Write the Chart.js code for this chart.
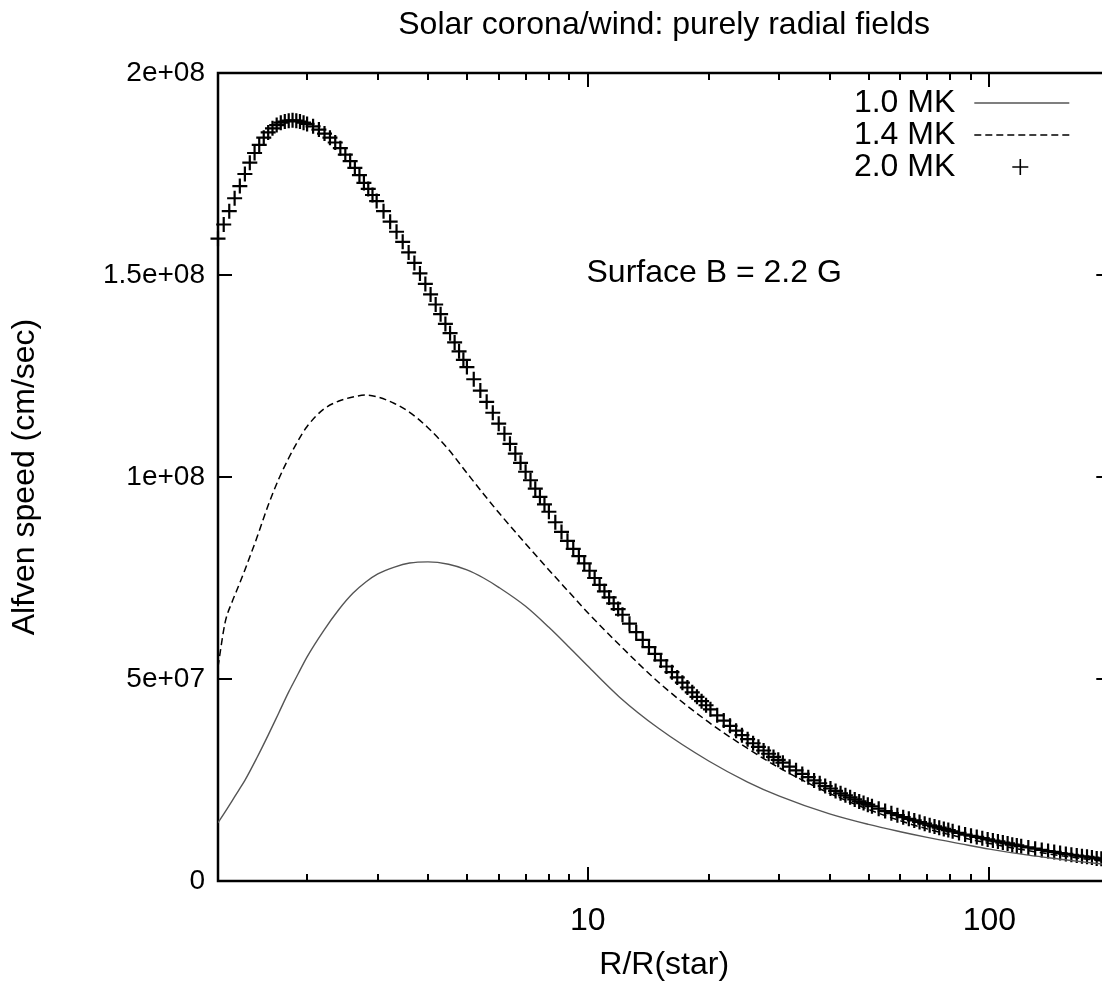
<!DOCTYPE html>
<html>
<head>
<meta charset="utf-8">
<title>Solar corona/wind: purely radial fields</title>
<script src="https://cdn.jsdelivr.net/npm/chart.js@4.4.1/dist/chart.umd.min.js"></script>
<style>
  html, body { margin: 0; padding: 0; background: #fff; overflow: hidden; }
  #wrap { width: 1120px; height: 981px; }
</style>
</head>
<body>
<div id="wrap"><canvas id="chart"></canvas></div>
<script>
// radius grid for the two line curves (R/R(star))
const rLine = [1.2, 1.25, 1.3, 1.35, 1.4, 1.5, 1.6, 1.7, 1.8, 1.9,
  2.0, 2.2, 2.4, 2.6, 2.8, 3.0, 3.3, 3.6, 4.0, 4.5,
  5, 5.5, 6, 7, 8, 9, 10, 12, 15, 20,
  25, 30, 40, 50, 60, 70, 85, 100, 125, 150,
  175, 200];

// Alfven speed in units of 1e7 cm/sec
const v10MK = [1.44, 1.71, 1.98, 2.24, 2.49, 3.05, 3.61, 4.16, 4.68, 5.13,
  5.55, 6.2, 6.72, 7.12, 7.4, 7.6, 7.77, 7.87, 7.9, 7.84,
  7.7, 7.5, 7.27, 6.8, 6.28, 5.78, 5.32, 4.55, 3.78, 2.97,
  2.45, 2.1, 1.66, 1.4, 1.22, 1.08, 0.92, 0.79, 0.64, 0.54,
  0.46, 0.4];

const v14MK = [5.3, 6.4, 6.9, 7.3, 7.7, 8.5, 9.3, 9.95, 10.47, 10.9,
  11.25, 11.68, 11.88, 11.98, 12.03, 11.98, 11.82, 11.6, 11.22, 10.68,
  10.1, 9.58, 9.12, 8.35, 7.7, 7.14, 6.64, 5.84, 4.92, 3.93,
  3.28, 2.8, 2.17, 1.77, 1.49, 1.29, 1.08, 0.93, 0.75, 0.63,
  0.54, 0.47];

// the 2.0 MK run is plotted point by point
const rPlus = [1.20, 1.24, 1.28, 1.32, 1.36, 1.40, 1.44, 1.48, 1.52, 1.56,
  1.60, 1.64, 1.68, 1.72, 1.76, 1.80, 1.84, 1.88, 1.92, 1.96,
  2.00, 2.07, 2.14, 2.21, 2.28, 2.35, 2.42, 2.49, 2.56, 2.63,
  2.70, 2.77, 2.84, 2.91, 2.98, 3.10, 3.22, 3.34, 3.46, 3.58,
  3.70, 3.82, 3.94, 4.06, 4.18, 4.30, 4.42, 4.54, 4.66, 4.78,
  4.90, 5.0, 5.2, 5.4, 5.6, 5.8, 6.0, 6.2, 6.4, 6.6,
  6.8, 7.0, 7.2, 7.4, 7.6, 7.8, 8.0, 8.3, 8.6, 8.9,
  9.2, 9.5, 9.8, 10.1, 10.4, 10.7, 11.0, 11.3, 11.6, 11.9,
  12.2, 12.7, 13.2, 13.7, 14.2, 14.7, 15.2, 15.7, 16.2, 16.7,
  17.2, 17.7, 18.2, 18.7, 19.2, 19.7, 20.2, 21.0, 21.8, 22.6,
  23.4, 24.2, 25.0, 25.8, 26.6, 27.4, 28.2, 29.0, 29.8, 30.6,
  31.8, 33.0, 34.2, 35.4, 36.6, 37.8, 39.0, 40.2, 41.4, 42.6,
  43.8, 45.0, 46.2, 47.4, 48.6, 49.8, 51, 53, 55, 57,
  59, 61, 63, 65, 67, 69, 71, 73, 75, 77,
  79, 81, 84, 87, 90, 93, 96, 99, 102, 105,
  108, 111, 114, 117, 120, 125, 130, 135, 140, 145,
  150, 155, 160, 165, 170, 175, 180, 185, 190, 195,
  200];

const v20MK = [15.9, 16.25, 16.58, 16.9, 17.2, 17.5, 17.78, 18.02, 18.22, 18.4,
  18.53, 18.63, 18.71, 18.77, 18.8, 18.82, 18.83, 18.82, 18.8, 18.77,
  18.74, 18.68, 18.6, 18.5, 18.4, 18.28, 18.14, 17.98, 17.82, 17.65,
  17.47, 17.28, 17.13, 16.98, 16.83, 16.58, 16.32, 16.07, 15.82, 15.56,
  15.3, 15.04, 14.78, 14.52, 14.27, 14.03, 13.79, 13.56, 13.33, 13.11,
  12.9, 12.72, 12.42, 12.14, 11.86, 11.59, 11.32, 11.07, 10.82, 10.58,
  10.35, 10.13, 9.92, 9.71, 9.51, 9.32, 9.14, 8.88, 8.64, 8.42,
  8.22, 8.04, 7.86, 7.68, 7.5, 7.33, 7.17, 7.02, 6.87, 6.73,
  6.59, 6.37, 6.16, 5.97, 5.79, 5.62, 5.46, 5.31, 5.17, 5.04,
  4.91, 4.79, 4.67, 4.56, 4.45, 4.35, 4.25, 4.1, 3.97, 3.84,
  3.72, 3.61, 3.51, 3.41, 3.32, 3.23, 3.15, 3.07, 3.0, 2.93,
  2.83, 2.74, 2.65, 2.57, 2.49, 2.42, 2.35, 2.29, 2.23, 2.17,
  2.12, 2.07, 2.02, 1.97, 1.93, 1.89, 1.85, 1.79, 1.73, 1.68,
  1.63, 1.58, 1.54, 1.5, 1.46, 1.42, 1.38, 1.35, 1.32, 1.29,
  1.26, 1.23, 1.19, 1.15, 1.12, 1.09, 1.06, 1.03, 1.0, 0.98,
  0.95, 0.93, 0.9, 0.88, 0.86, 0.83, 0.8, 0.77, 0.74, 0.72,
  0.69, 0.67, 0.65, 0.63, 0.61, 0.6, 0.58, 0.56, 0.55, 0.54,
  0.52];

const seriesLabels = ['1.0 MK', '1.4 MK', '2.0 MK'];
const xTickValues = [2, 3, 4, 5, 6, 7, 8, 9, 10, 20, 30, 40, 50, 60, 70, 80, 90, 100];
const xMajorTicks = [10, 100];
const yTickValues = [0, 5, 10, 15, 20];
const yTickLabels = ['0', '5e+07', '1e+08', '1.5e+08', '2e+08'];

const FONT = '"Liberation Sans", Arial, sans-serif';
Chart.defaults.font.family = FONT;
Chart.defaults.color = '#000';

const toPoints = (xs, ys) => xs.map((x, i) => ({x: x, y: ys[i]}));

// gnuplot-like frame, mirrored inward ticks, title, label and key
const framePlugin = {
  id: 'frame',
  beforeDatasetsDraw(chart) {
    const {ctx, chartArea: a, scales: {x, y}} = chart;
    ctx.save();
    ctx.strokeStyle = '#000';
    ctx.lineWidth = 2;
    ctx.beginPath();
    xTickValues.forEach(v => {
      const px = Math.round(x.getPixelForValue(v));
      const len = xMajorTicks.includes(v) ? 14 : 7;
      ctx.moveTo(px, a.bottom); ctx.lineTo(px, a.bottom - len);
      ctx.moveTo(px, a.top); ctx.lineTo(px, a.top + len);
    });
    yTickValues.forEach(v => {
      const py = Math.round(y.getPixelForValue(v));
      ctx.moveTo(a.left, py); ctx.lineTo(a.left + 14, py);
      ctx.moveTo(a.right, py); ctx.lineTo(a.right - 14, py);
    });
    ctx.stroke();
    ctx.lineWidth = 2.5;
    ctx.strokeRect(a.left, a.top, a.right - a.left, a.bottom - a.top);
    ctx.restore();
  },
  afterDraw(chart) {
    const {ctx, chartArea: a} = chart;
    const w = a.right - a.left, h = a.bottom - a.top;
    ctx.save();
    ctx.fillStyle = '#000';
    ctx.font = '32px ' + FONT;
    ctx.textBaseline = 'middle';

    ctx.textAlign = 'center';
    ctx.fillText('Solar corona/wind: purely radial fields', a.left + w / 2, 25);

    ctx.textAlign = 'left';
    ctx.fillText('Surface B = 2.2 G', a.left + 0.413 * w, a.top + 0.2475 * h);

    // key, top right inside the frame
    const sets = chart.data.datasets;
    ctx.textAlign = 'right';
    sets.forEach((ds, i) => {
      const yy = a.top + 30 + 32 * i;
      ctx.fillText(ds.label, a.right - 155, yy);
      ctx.save();
      ctx.strokeStyle = ds.borderColor;
      ctx.lineWidth = ds.borderWidth;
      if (ds.showLine === false) {
        Chart.helpers.drawPoint(ctx, {pointStyle: 'cross', radius: 8, borderWidth: 1.6}, a.right - 90, yy);
      } else {
        ctx.setLineDash(ds.borderDash || []);
        ctx.beginPath();
        ctx.moveTo(a.right - 136, yy);
        ctx.lineTo(a.right - 41, yy);
        ctx.stroke();
      }
      ctx.restore();
    });
    ctx.restore();
  }
};

new Chart(document.getElementById('chart'), {
  type: 'line',
  data: {
    datasets: [
      {
        label: seriesLabels[0],
        data: toPoints(rLine, v10MK),
        borderColor: '#555',
        borderWidth: 1.4,
        pointRadius: 0,
        cubicInterpolationMode: 'monotone'
      },
      {
        label: seriesLabels[1],
        data: toPoints(rLine, v14MK),
        borderColor: '#000',
        borderWidth: 1.5,
        borderDash: [7, 4],
        pointRadius: 0,
        cubicInterpolationMode: 'monotone'
      },
      {
        label: seriesLabels[2],
        data: toPoints(rPlus, v20MK),
        borderColor: '#000',
        borderWidth: 1.6,
        showLine: false,
        pointStyle: 'cross',
        pointRadius: 7.5,
        pointBorderWidth: 2.2,
        pointBorderColor: '#000',
        clip: false
      }
    ]
  },
  options: {
    responsive: true,
    maintainAspectRatio: false,
    animation: false,
    layout: { padding: { top: 73, right: 7, left: 0, bottom: 0 } },
    plugins: {
      legend: { display: false },
      tooltip: { enabled: false },
      title: { display: false }
    },
    scales: {
      x: {
        type: 'logarithmic',
        min: 1.2,
        max: 200,
        grid: { display: false, drawTicks: false },
        border: { display: false },
        afterBuildTicks: scale => { scale.ticks = xTickValues.map(v => ({value: v})); },
        afterFit: scale => { scale.height = 100; },
        ticks: {
          autoSkip: false,
          maxRotation: 0,
          padding: 21,
          font: { size: 32 },
          callback: v => xMajorTicks.includes(v) ? String(v) : ''
        },
        title: {
          display: true,
          text: 'R/R(star)',
          font: { size: 32, lineHeight: 1 },
          padding: { top: 0, bottom: 0 }
        }
      },
      y: {
        min: 0,
        max: 20,
        grid: { display: false, drawTicks: false },
        border: { display: false },
        afterBuildTicks: scale => { scale.ticks = yTickValues.map(v => ({value: v})); },
        afterFit: scale => { scale.width = 218; },
        ticks: {
          padding: 13,
          font: { size: 28 },
          callback: v => yTickLabels[yTickValues.indexOf(v)]
        },
        title: {
          display: true,
          text: 'Alfven speed (cm/sec)',
          font: { size: 32, lineHeight: 1 },
          padding: { top: 9, bottom: 0 }
        }
      }
    }
  },
  plugins: [framePlugin]
});
</script>
</body>
</html>
